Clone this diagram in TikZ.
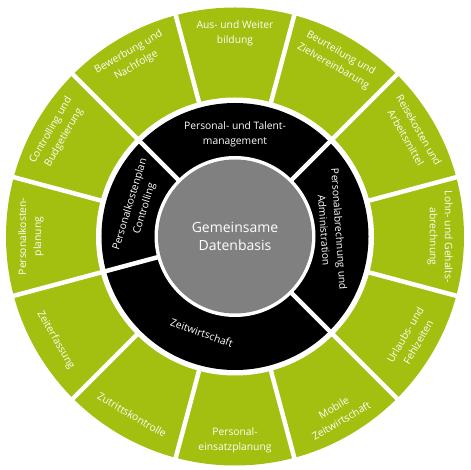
\documentclass[tikz,border=0pt]{standalone}
\usepackage{fontspec}
\setmainfont{Open Sans}
\definecolor{ringgreen}{HTML}{A3BF0F}
\definecolor{hubgray}{HTML}{808080}
\tikzset{
  lbl/.style={text=white, align=center, inner sep=0pt, font=\fontsize{10.3}{15}\selectfont},
  hub/.style={text=white, align=center, inner sep=0pt, font=\fontsize{14}{18}\selectfont},
  sep/.style={draw=white, line width=4.5pt}
}
\begin{document}
\begin{tikzpicture}[x=1pt,y=1pt]
\useasboundingbox (-235,-233.5) rectangle (235,236.5);
\fill[white] (-235,-233.5) rectangle (235,236.5);
% rings
\fill[ringgreen] (0,0) circle (229);
\fill[white] (0,0) circle (139);
\fill[black] (0,0) circle (133.5);
\fill[white] (0,0) circle (80.5);
\fill[hubgray] (0,0) circle (77);
% separators of the outer ring
\foreach \a in {15,45,...,345} {
  \coordinate (s1) at (\a:136);
  \coordinate (s2) at (\a:232);
  \draw[sep] (s1) -- (s2);
}
% separators of the inner ring
\foreach \a in {45,135,195,315} {
  \coordinate (t1) at (\a:79);
  \coordinate (t2) at (\a:137);
  \draw[sep] (t1) -- (t2);
}
% outer labels
\node[lbl] (g90) at (90:203) {Aus- und Weiter\\bildung};
\node[lbl, rotate=-30] (g60) at (60:204) {Beurteilung und\\Zielvereinbarung};
\node[lbl, rotate=-60] (g30) at (30:205) {Reisekosten und\\Arbeitsmittel};
\node[lbl, rotate=-90] (g0) at (0:205) {Lohn- und Gehalts-\\abrechnung};
\node[lbl, rotate=60] (gm30) at (-30:204) {Urlaubs- und\\Fehlzeiten};
\node[lbl, rotate=30] (gm60) at (-60:205) {Mobile\\Zeitwirtschaft};
\node[lbl] (gm90) at (-90:204) {Personal-\\einsatzplanung};
\node[lbl, rotate=-30] (gm120) at (-120:206) {Zutrittskontrolle};
\node[lbl, rotate=-60] (gm150) at (-150:207) {Zeiterfassung};
\node[lbl, rotate=90] (g180) at (180:204) {Personalkosten-\\planung};
\node[lbl, rotate=60] (g150) at (150:205) {Controlling und\\Budgetierung};
\node[lbl, rotate=30] (g120) at (120:205) {Bewerbung und\\Nachfolge};
% inner labels
\node[lbl] (b90) at (90:102) {Personal- und Talent-\\management};
\node[lbl, rotate=-86] (b0) at (4:97) {Personalabrechnung und\\Administration};
\node[lbl, rotate=-19] (b270) at (251:102) {Zeitwirtschaft};
\node[lbl, rotate=73] (b165) at (163:102) {Personalkostenplan\\Controlling};
% hub
\node[hub] (hubtext) at (0,0) {Gemeinsame\\Datenbasis};
\end{tikzpicture}
\end{document}
